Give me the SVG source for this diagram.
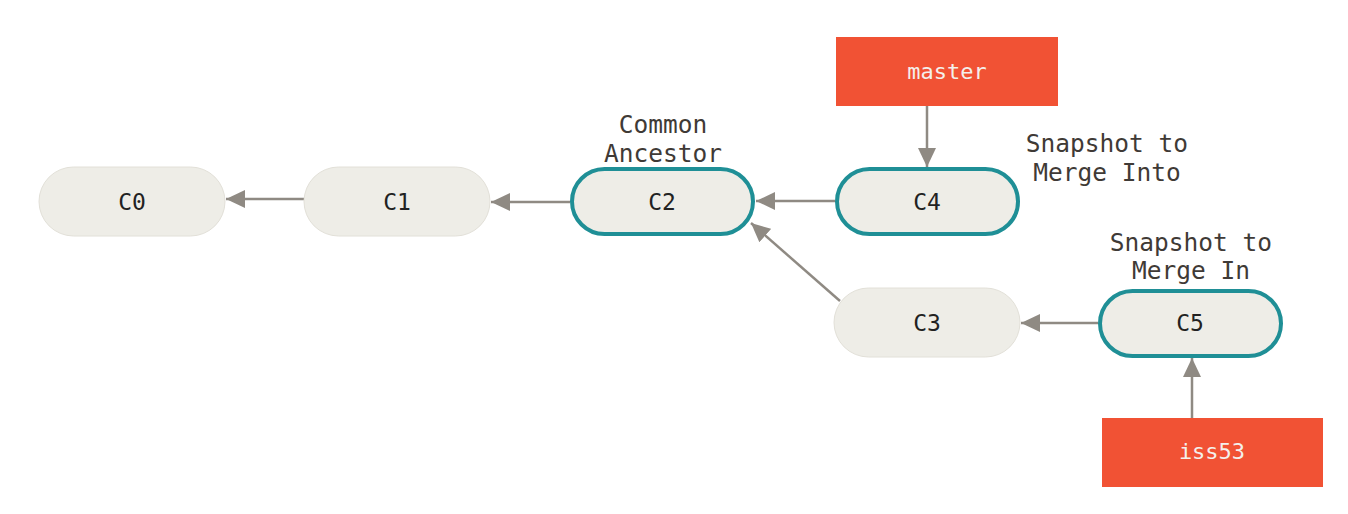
<svg xmlns="http://www.w3.org/2000/svg" width="1348" height="514" viewBox="0 0 1348 514">
<defs>
<style>
.commit{fill:#eeede7;stroke:#e2e0d8;stroke-width:1}
.sel{fill:#eeede7;stroke:#1f8f96;stroke-width:4}
.branch{fill:#f15234}
.ctext{font-family:"DejaVu Sans Mono",monospace;font-size:23px;fill:#222;text-anchor:middle}
.btext{font-family:"DejaVu Sans Mono",monospace;font-size:22px;fill:#f4f0ec;text-anchor:middle}
.label{font-family:"DejaVu Sans Mono",monospace;font-size:24.5px;fill:#3f3a36;text-anchor:middle}
.edge{stroke:#8f8a83;stroke-width:2.5;fill:none;marker-end:url(#ah)}
</style>
<marker id="ah" markerUnits="userSpaceOnUse" markerWidth="20" markerHeight="18" refX="19" refY="9" orient="auto">
<path d="M0,0 L19,9 L0,18 Z" fill="#8f8a83"/>
</marker>
</defs>
<rect width="1348" height="514" fill="#ffffff"/>
<g id="connectors">
<line class="edge" x1="304" y1="199" x2="226" y2="199"/>
<line class="edge" x1="570" y1="202" x2="491" y2="202"/>
<line class="edge" x1="835" y1="201" x2="756" y2="201"/>
<line class="edge" x1="840" y1="301" x2="751" y2="223"/>
<line class="edge" x1="1098" y1="323" x2="1021" y2="323"/>
<line class="edge" x1="927" y1="106" x2="927" y2="167"/>
<line class="edge" x1="1192" y1="418" x2="1192" y2="358"/>
</g>
<g id="C0"><rect class="commit" x="39" y="167" width="186" height="69" rx="34.5"/><text class="ctext" x="132" y="210">C0</text></g>
<g id="C1"><rect class="commit" x="304" y="167" width="186" height="69" rx="34.5"/><text class="ctext" x="397" y="210">C1</text></g>
<g id="C2"><rect class="sel" x="572" y="169" width="181" height="65" rx="32.5"/><text class="ctext" x="662" y="210">C2</text></g>
<g id="C4"><rect class="sel" x="837" y="169" width="181" height="65" rx="32.5"/><text class="ctext" x="927" y="210">C4</text></g>
<g id="C3"><rect class="commit" x="834" y="288" width="186" height="69" rx="34.5"/><text class="ctext" x="927" y="331">C3</text></g>
<g id="C5"><rect class="sel" x="1100" y="291" width="181" height="65" rx="32.5"/><text class="ctext" x="1190" y="331">C5</text></g>
<g id="master"><rect class="branch" x="836" y="37" width="222" height="69"/><text class="btext" x="947" y="79">master</text></g>
<g id="iss53"><rect class="branch" x="1102" y="418" width="221" height="69"/><text class="btext" x="1212" y="459">iss53</text></g>
<g id="label-common"><text class="label" x="663" y="133">Common</text><text class="label" x="663" y="162">Ancestor</text></g>
<g id="label-into"><text class="label" x="1107" y="152">Snapshot to</text><text class="label" x="1107" y="181">Merge Into</text></g>
<g id="label-in"><text class="label" x="1191" y="251">Snapshot to</text><text class="label" x="1191" y="279">Merge In</text></g>
</svg>
